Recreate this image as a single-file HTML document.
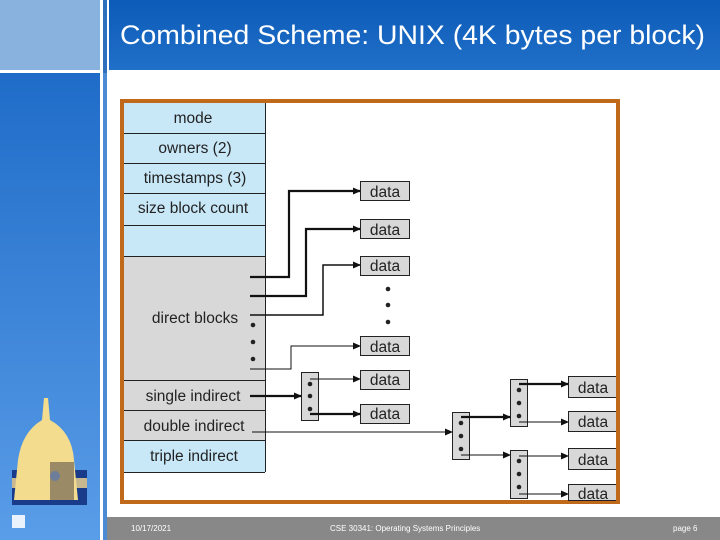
<!DOCTYPE html>
<html><head><meta charset="utf-8"><style>
html,body{margin:0;padding:0;width:720px;height:540px;overflow:hidden;background:#fff;font-family:"Liberation Sans",sans-serif}
</style></head><body>
<svg width="720" height="540" viewBox="0 0 720 540" xmlns="http://www.w3.org/2000/svg" font-family="Liberation Sans, sans-serif">
<defs>
<linearGradient id="lg" x1="0" y1="0" x2="0" y2="1"><stop offset="0" stop-color="#1f6cc8"/><stop offset="1" stop-color="#5a9de8"/></linearGradient>
<linearGradient id="hg" x1="0" y1="0" x2="0" y2="1"><stop offset="0" stop-color="#0c5bb8"/><stop offset="1" stop-color="#206fc8"/></linearGradient>
<marker id="a" markerWidth="8" markerHeight="8" refX="7" refY="4" orient="auto" markerUnits="userSpaceOnUse"><path d="M0,0.5 L8,4 L0,7.5 Z" fill="#111"/></marker>
</defs>
<rect x="0" y="0" width="100" height="70" fill="#8ab2de"/>
<rect x="0" y="73" width="100" height="467" fill="url(#lg)"/>
<rect x="103" y="0" width="4" height="540" fill="#2f6fc0"/>
<rect x="103" y="73" width="4" height="467" fill="#4d8ad6"/>
<rect x="109" y="0" width="611" height="70" fill="url(#hg)"/>
<text x="120" y="44" font-size="27" fill="#fff" textLength="585" lengthAdjust="spacingAndGlyphs">Combined Scheme:  UNIX (4K bytes per block)</text>
<rect x="107" y="517" width="613" height="23" fill="#888"/>
<text x="131" y="531" font-size="8" fill="#fff">10/17/2021</text>
<text x="330" y="531" font-size="8" fill="#fff">CSE 30341: Operating Systems Principles</text>
<text x="673" y="531" font-size="8" fill="#fff">page 6</text>
<rect x="12" y="470" width="75" height="35" fill="#1a3a8a"/>
<rect x="12" y="478" width="75" height="10" fill="#c8b890"/>
<path d="M44,398 L48,398 L50,420 Q72,432 74,460 L78,500 L14,500 L18,460 Q22,432 42,420 Z" fill="#f3dc8e"/>
<rect x="50" y="462" width="24" height="38" fill="#9a8a66"/>
<circle cx="55" cy="476" r="5" fill="#6d7e9a"/>
<rect x="12" y="515" width="13" height="13" fill="#eaf2fb"/>
<rect x="122" y="101" width="496" height="401" fill="#fff" stroke="#c0691a" stroke-width="4"/>
<g stroke="#222" stroke-width="1">
<rect x="124" y="103" width="141" height="153" fill="#c8e8f8" stroke="none"/>
<rect x="124" y="256" width="141" height="184" fill="#d8d8d8" stroke="none"/>
<rect x="124" y="440" width="141" height="32" fill="#c8e8f8" stroke="none"/>
<line x1="265.5" y1="103" x2="265.5" y2="472"/>
<line x1="124" y1="472.5" x2="265" y2="472.5"/>
<line x1="124" y1="133.5" x2="265" y2="133.5"/>
<line x1="124" y1="163.5" x2="265" y2="163.5"/>
<line x1="124" y1="193.5" x2="265" y2="193.5"/>
<line x1="124" y1="225.5" x2="265" y2="225.5"/>
<line x1="124" y1="256.5" x2="265" y2="256.5"/>
<line x1="124" y1="380.5" x2="265" y2="380.5"/>
<line x1="124" y1="410.5" x2="265" y2="410.5"/>
<line x1="124" y1="440.5" x2="265" y2="440.5"/>
</g>
<g font-size="15.5" fill="#222" text-anchor="middle">
<text x="193" y="123">mode</text>
<text x="195" y="153">owners (2)</text>
<text x="195" y="183">timestamps (3)</text>
<text x="193" y="213">size block count</text>
<text x="195" y="323">direct blocks</text>
<text x="193" y="401">single indirect</text>
<text x="194" y="431">double indirect</text>
<text x="194" y="461">triple indirect</text>
</g>
<g fill="#222"><circle cx="253" cy="325" r="2.3"/><circle cx="253" cy="342" r="2.3"/><circle cx="253" cy="359" r="2.3"/>
<circle cx="388" cy="289" r="2.3"/><circle cx="388" cy="305" r="2.3"/><circle cx="388" cy="322" r="2.3"/></g>
<g fill="#d8d8d8" stroke="#222" stroke-width="1">
<rect x="360.5" y="181.5" width="49" height="19"/>
<rect x="360.5" y="219.5" width="49" height="19"/>
<rect x="360.5" y="256.5" width="49" height="19"/>
<rect x="360.5" y="336.5" width="49" height="19"/>
<rect x="360.5" y="370.5" width="49" height="19"/>
<rect x="360.5" y="404.5" width="49" height="19"/>
<rect x="568.5" y="376.5" width="48" height="21"/>
<rect x="568.5" y="411.5" width="48" height="20"/>
<rect x="568.5" y="448.5" width="48" height="21"/>
<rect x="568.5" y="484.5" width="48" height="16"/>
<rect x="301.5" y="372.5" width="17" height="48"/>
<rect x="452.5" y="412.5" width="17" height="47"/>
<rect x="510.5" y="379.5" width="17" height="47"/>
<rect x="510.5" y="450.5" width="17" height="48"/>
</g>
<rect x="620" y="370" width="10" height="135" fill="#fff"/>
<rect x="616" y="370" width="4" height="134" fill="#c0691a"/>
<g font-size="15.5" fill="#222" text-anchor="middle">
<text x="385" y="197">data</text><text x="385" y="235">data</text><text x="385" y="271">data</text>
<text x="385" y="352">data</text><text x="385" y="385">data</text><text x="385" y="419">data</text>
<text x="593" y="393">data</text><text x="593" y="427">data</text><text x="593" y="465">data</text><text x="593" y="499">data</text>
</g>
<g fill="#222">
<circle cx="310" cy="384" r="2.3"/><circle cx="310" cy="396" r="2.3"/><circle cx="310" cy="409" r="2.3"/>
<circle cx="461" cy="423" r="2.3"/><circle cx="461" cy="436" r="2.3"/><circle cx="461" cy="449" r="2.3"/>
<circle cx="519" cy="390" r="2.3"/><circle cx="519" cy="403" r="2.3"/><circle cx="519" cy="416" r="2.3"/>
<circle cx="519" cy="461" r="2.3"/><circle cx="519" cy="474" r="2.3"/><circle cx="519" cy="487" r="2.3"/>
</g>
<g fill="none" stroke="#111" marker-end="url(#a)">
<polyline points="250,277 289,277 289,191 360,191" stroke-width="2.2"/>
<polyline points="250,296 306,296 306,229 360,229" stroke-width="2.2"/>
<polyline points="250,315 323,315 323,265 360,265" stroke-width="1.5"/>
<polyline points="250,369 291,369 291,346 360,346" stroke-width="1"/>
<line x1="250" y1="396" x2="301" y2="396" stroke-width="2.2"/>
<line x1="310" y1="379" x2="360" y2="379" stroke-width="1"/>
<line x1="310" y1="414" x2="360" y2="414" stroke-width="2.2"/>
<line x1="252" y1="432" x2="452" y2="432" stroke-width="1"/>
<line x1="461" y1="417" x2="510" y2="417" stroke-width="2.2"/>
<line x1="461" y1="455" x2="510" y2="455" stroke-width="1"/>
<line x1="519" y1="384" x2="568" y2="384" stroke-width="2.2"/>
<line x1="519" y1="422" x2="568" y2="422" stroke-width="1"/>
<line x1="519" y1="456" x2="568" y2="456" stroke-width="1"/>
<line x1="519" y1="494" x2="568" y2="494" stroke-width="1"/>
</g>
</svg>
</body></html>
